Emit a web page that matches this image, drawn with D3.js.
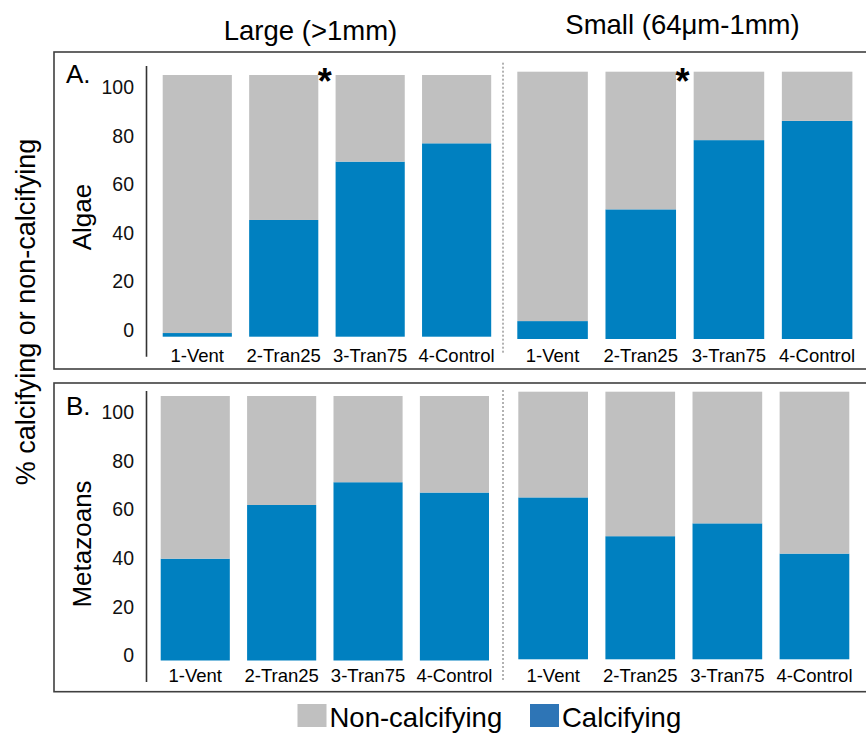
<!DOCTYPE html>
<html>
<head>
<meta charset="utf-8">
<script src="https://cdn.jsdelivr.net/npm/d3@7"></script>
<style>
  html, body { margin: 0; padding: 0; background: #fff; }
  svg { display: block; }
</style>
</head>
<body>
<div id="chart"></div>
<script>
// ---- data ----
const categories = ["1-Vent", "2-Tran25", "3-Tran75", "4-Control"];
const sizeClasses = ["Large (>1mm)", "Small (64μm-1mm)"];
const seriesNames = ["Non-calcifying", "Calcifying"];
const yTicks = [0, 20, 40, 60, 80, 100];

// percent of individuals that calcify, per site
const algaeLarge = [1.4, 44.6, 66.9, 73.9];
const algaeSmall = [6.7, 48.5, 74.4, 81.6];
const metazoansLarge = [38.5, 58.8, 67.4, 63.5];
const metazoansSmall = [60.5, 46.0, 50.8, 39.5];

// sites flagged as significantly different (asterisk after the bar)
const algaeStarred = ["2-Tran25"];
const metazoansStarred = [];

// ---- styling / layout ----
const W = 866, H = 734;
const FONT = "'Liberation Sans', Arial, Helvetica, sans-serif";
const GREY = "#c0c0c0";
const BLUE = "#0080c0";
const LEGEND_BLUE = "#2e75b6";

const panels = [
  {
    name: "Algae", letter: "A.", box: [52, 369],
    large: algaeLarge, small: algaeSmall, starred: algaeStarred,
    barRange: { large: [336.7, 75], small: [339, 71.7] },
    tickRange: [330, 87.3], axisLine: [66, 356.7], dashed: [62.7, 353],
    xRange: { large: [162.7, 491.2], small: [517.3, 852.4] },
    catY: 361.5, letterY: 83, labelY: 217
  },
  {
    name: "Metazoans", letter: "B.", box: [383, 691.7],
    large: metazoansLarge, small: metazoansSmall, starred: metazoansStarred,
    barRange: { large: [660.5, 396], small: [659.3, 391.7] },
    tickRange: [655.5, 412.3], axisLine: [391, 682], dashed: [390, 680],
    xRange: { large: [160.7, 489], small: [518.3, 849.3] },
    catY: 682, letterY: 415, labelY: 544
  }
];

const svg = d3.select("#chart").append("svg")
  .attr("width", W).attr("height", H)
  .style("font-family", FONT);

// column headings
svg.append("text").attr("x", 310.5).attr("y", 39.5)
  .attr("text-anchor", "middle").style("font-size", "27.5px")
  .text(sizeClasses[0]);
svg.append("text").attr("x", 682.5).attr("y", 34)
  .attr("text-anchor", "middle").style("font-size", "27.5px")
  .text(sizeClasses[1]);

// shared y title
svg.append("text")
  .attr("transform", "translate(35,312) rotate(-90)")
  .attr("text-anchor", "middle").style("font-size", "27px")
  .text("% calcifying or non-calcifying");

panels.forEach(p => {
  const g = svg.append("g");

  // panel frame (open to the right edge)
  g.append("rect")
    .attr("x", 54).attr("y", p.box[0])
    .attr("width", W - 54 + 20).attr("height", p.box[1] - p.box[0])
    .attr("fill", "none").attr("stroke", "#404040").attr("stroke-width", 1.6);

  // panel letter and row label
  g.append("text").attr("x", 66).attr("y", p.letterY)
    .style("font-size", "26px").text(p.letter);
  g.append("text")
    .attr("transform", `translate(91,${p.labelY}) rotate(-90)`)
    .attr("text-anchor", "middle").style("font-size", "26px")
    .text(p.name);

  // y axis (labels only) and its vertical rule
  const yTick = d3.scaleLinear().domain([0, 100]).range(p.tickRange);
  const axis = g.append("g").attr("transform", "translate(134,0)")
    .call(d3.axisLeft(yTick).tickValues(yTicks).tickSize(0).tickPadding(0));
  axis.select(".domain").remove();
  axis.selectAll("text").style("font-size", "19.5px").style("font-family", FONT)
    .attr("fill", "#111");
  g.append("line")
    .attr("x1", 146.5).attr("x2", 146.5)
    .attr("y1", p.axisLine[0]).attr("y2", p.axisLine[1])
    .attr("stroke", "#333").attr("stroke-width", 1.6);

  // dotted divider between size classes
  g.append("line")
    .attr("x1", 503).attr("x2", 503)
    .attr("y1", p.dashed[0]).attr("y2", p.dashed[1])
    .attr("stroke", "#666").attr("stroke-width", 1)
    .attr("stroke-dasharray", "2,2");

  [["large", p.large], ["small", p.small]].forEach(([key, values]) => {
    const x = d3.scaleBand().domain(categories).range(p.xRange[key])
      .paddingInner(0.2).paddingOuter(0);
    const y = d3.scaleLinear().domain([0, 100]).range(p.barRange[key]);

    const rows = categories.map((c, i) => ({
      cat: c, "Calcifying": values[i], "Non-calcifying": 100 - values[i]
    }));
    // calcifying sits at the bottom of each bar
    const layers = d3.stack().keys(["Calcifying", "Non-calcifying"])(rows);

    g.selectAll(null).data(layers).join("g")
      .attr("fill", d => d.key === "Calcifying" ? BLUE : GREY)
      .selectAll("rect").data(d => d).join("rect")
      .attr("x", d => x(d.data.cat))
      .attr("width", x.bandwidth())
      .attr("y", d => y(d[1]))
      .attr("height", d => y(d[0]) - y(d[1]));

    // category labels
    g.selectAll(null).data(categories).join("text")
      .attr("x", d => x(d) + x.bandwidth() / 2)
      .attr("y", p.catY)
      .attr("text-anchor", "middle")
      .style("font-size", "18.5px")
      .text(d => d);

    // significance asterisks
    g.selectAll(null).data(p.starred).join("text")
      .attr("x", d => x(d) + x.bandwidth() + 6.5)
      .attr("y", 94)
      .attr("text-anchor", "middle")
      .style("font-size", "36px").style("font-weight", "bold")
      .text("*");
  });
});

// legend
const legend = svg.append("g");
const legendItems = [
  { name: seriesNames[0], color: GREY, x: 297.5 },
  { name: seriesNames[1], color: LEGEND_BLUE, x: 530 }
];
legendItems.forEach(it => {
  legend.append("rect").attr("x", it.x).attr("y", 704)
    .attr("width", 29).attr("height", 23).attr("fill", it.color);
  legend.append("text").attr("x", it.x + 32).attr("y", 726.5)
    .style("font-size", "27.5px").text(it.name);
});
</script>
</body>
</html>
